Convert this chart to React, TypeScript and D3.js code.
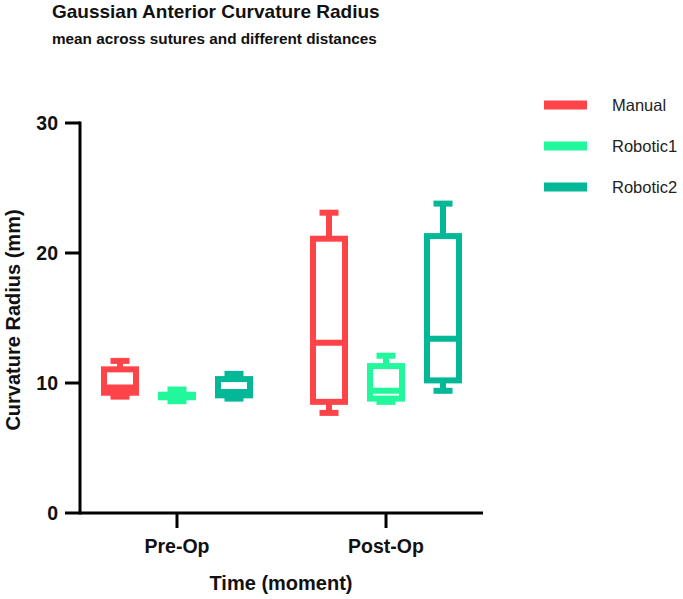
import React from "react";
import * as d3 from "d3";

const groups = ["Pre-Op", "Post-Op"];
const seriesNames = ["Manual", "Robotic1", "Robotic2"];
const seriesColors = ["#ff4449", "#22f79c", "#03b896"];
const yTicks = [0, 10, 20, 30];
// [min, q1, median, q3, max] for Pre-Op and Post-Op
const manualBox = [
  [8.95, 9.25, 9.65, 11.05, 11.7],
  [7.7, 8.55, 13.1, 21.1, 23.1],
];
const robotic1Box = [
  [8.6, 8.9, 9.0, 9.1, 9.5],
  [8.55, 8.8, 9.4, 11.3, 12.1],
];
const robotic2Box = [
  [8.8, 9.05, 9.3, 10.3, 10.7],
  [9.4, 10.2, 13.4, 21.3, 23.8],
];
const allBoxes = [manualBox, robotic1Box, robotic2Box];

const W = 683;
const H = 599;
const FONT = "'Liberation Sans', Arial, Helvetica, sans-serif";

export default function App() {
  const y = d3.scaleLinear().domain([0, 30]).range([513, 123]);
  const x = d3.scalePoint<string>().domain(groups).range([80, 483]).padding(0.464);
  const sub = d3.scaleBand<string>().domain(seriesNames).range([-85.5, 85.5]).padding(0);
  const boxW = 32;
  const capW = 19;
  const sw = 6;

  return (
    <svg width={W} height={H} style={{ position: "absolute", left: 0, top: 0, background: "#fff" }}>
      <text x={52} y={18} fontFamily={FONT} fontWeight="bold" fontSize={19} fill="#111">
        Gaussian Anterior Curvature Radius
      </text>
      <text x={52} y={44} fontFamily={FONT} fontWeight="bold" fontSize={15.3} fill="#111">
        mean across sutures and different distances
      </text>

      {/* boxes */}
      {allBoxes.map((boxes, si) =>
        boxes.map((s, gi) => {
          const cx = (x(groups[gi]) as number) + (sub(seriesNames[si]) as number) + sub.bandwidth() / 2;
          const [mn, q1, md, q3, mx] = s;
          const c = seriesColors[si];
          return (
            <g key={`${si}-${gi}`} stroke={c} strokeWidth={sw} fill="none">
              <line x1={cx} x2={cx} y1={y(mx)} y2={y(q3)} />
              <line x1={cx} x2={cx} y1={y(q1)} y2={y(mn)} />
              <line x1={cx - capW / 2} x2={cx + capW / 2} y1={y(mx)} y2={y(mx)} />
              <line x1={cx - capW / 2} x2={cx + capW / 2} y1={y(mn)} y2={y(mn)} />
              <rect x={cx - boxW / 2} y={y(q3)} width={boxW} height={y(q1) - y(q3)} fill="#fff" />
              <line x1={cx - boxW / 2} x2={cx + boxW / 2} y1={y(md)} y2={y(md)} />
            </g>
          );
        })
      )}

      {/* y axis */}
      <g stroke="#000" strokeWidth={3}>
        <line x1={80} x2={80} y1={y(30) - 1.5} y2={y(0) + 1.5} />
        {yTicks.map((t) => (
          <line key={t} x1={65} x2={80} y1={y(t)} y2={y(t)} />
        ))}
        <line x1={80} x2={483} y1={y(0)} y2={y(0)} />
        {groups.map((g) => (
          <line key={g} x1={x(g)} x2={x(g)} y1={y(0)} y2={y(0) + 15} />
        ))}
      </g>
      {yTicks.map((t) => (
        <text key={t} x={58} y={y(t)} dy="0.36em" textAnchor="end" fontFamily={FONT} fontWeight="bold" fontSize={19.5} fill="#111">
          {t}
        </text>
      ))}
      {groups.map((g) => (
        <text key={g} x={x(g)} y={553} textAnchor="middle" fontFamily={FONT} fontWeight="bold" fontSize={19.5} fill="#111">
          {g}
        </text>
      ))}
      <text x={281} y={590} textAnchor="middle" fontFamily={FONT} fontWeight="bold" fontSize={20} fill="#111">
        Time (moment)
      </text>
      <text
        transform={`translate(13, ${(y(0) + y(30)) / 2 + 2}) rotate(-90)`}
        textAnchor="middle"
        dominantBaseline="central"
        fontFamily={FONT}
        fontWeight="bold"
        fontSize={20}
        fill="#111"
      >
        Curvature Radius (mm)
      </text>

      {/* legend */}
      {seriesNames.map((s, i) => (
        <g key={s} transform={`translate(544, ${105 + i * 41})`}>
          <rect x={0} y={-4.5} width={43} height={9} fill={seriesColors[i]} />
          <text x={68} y={0} dy="0.35em" fontFamily={FONT} fontSize={16.5} fill="#222">
            {s}
          </text>
        </g>
      ))}
    </svg>
  );
}
